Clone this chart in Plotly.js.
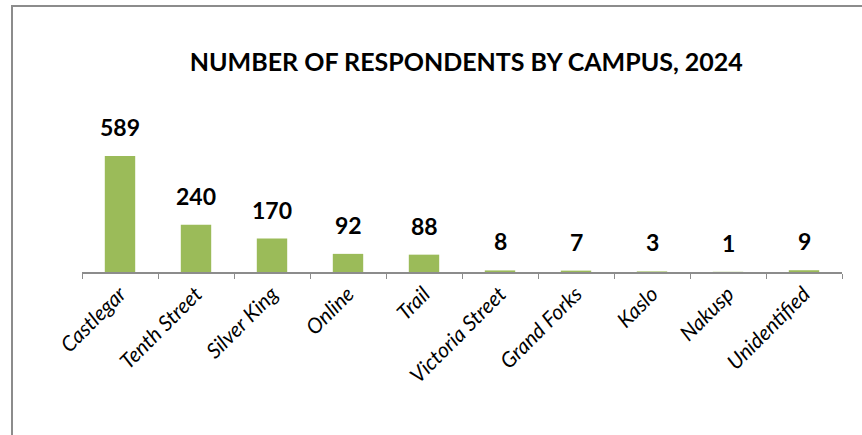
<!DOCTYPE html>
<html>
<head>
<meta charset="utf-8">
<script src="https://cdn.plot.ly/plotly-3.0.1.min.js"></script>
<style>
  body { margin: 0; background: #fff; }
  #chart { width: 862px; height: 435px; }
  #frame { position: absolute; left: 11px; top: 5px; width: 860px; height: 440px;
           border-left: 2px solid #8c8c8c; border-top: 2px solid #8c8c8c; pointer-events: none; }
</style>
</head>
<body>
<div id="chart"></div>
<div id="frame"></div>
<script>
const campuses = ['Castlegar', 'Tenth Street', 'Silver King', 'Online', 'Trail',
                  'Victoria Street', 'Grand Forks', 'Kaslo', 'Nakusp', 'Unidentified'];
const respondents = [589, 240, 170, 92, 88, 8, 7, 3, 1, 9];

const trace = {
    x: campuses,
    y: respondents,
    type: 'bar',
    width: 0.4,
    marker: {color: '#9BBB59'},
    hoverinfo: 'none'
};

// value labels sit a bit higher above the bars than plotly's own outside text
const labels = campuses.map((c, i) => ({
    x: c,
    y: respondents[i],
    text: '<b>' + respondents[i] + '</b>',
    showarrow: false,
    yanchor: 'bottom',
    yshift: 13,
    font: {family: 'Lato', size: 23, color: '#000'}
}));

const layout = {
    title: {
        text: '<b>NUMBER OF RESPONDENTS BY CAMPUS, 2024</b>',
        font: {family: 'Lato', size: 25, color: '#000'},
        x: 0.541, xanchor: 'center',
        y: 0.857, yanchor: 'middle'
    },
    xaxis: {
        type: 'category',
        tickson: 'boundaries',
        ticks: 'outside',
        ticklen: 5,
        tickcolor: '#8c8c8c',
        showline: true,
        linecolor: '#8c8c8c',
        linewidth: 1.5,
        tickangle: -45,
        tickfont: {family: 'Lato', size: 21, color: '#000', style: 'italic'},
        showgrid: false
    },
    yaxis: {visible: false, range: [0, 873], fixedrange: true},
    annotations: labels,
    showlegend: false,
    bargap: 0.6,
    margin: {t: 100, b: 163, l: 82, r: 20},
    paper_bgcolor: '#fff',
    plot_bgcolor: '#fff'
};

Plotly.newPlot('chart', [trace], layout, {displayModeBar: false, staticPlot: true});
</script>
</body>
</html>
